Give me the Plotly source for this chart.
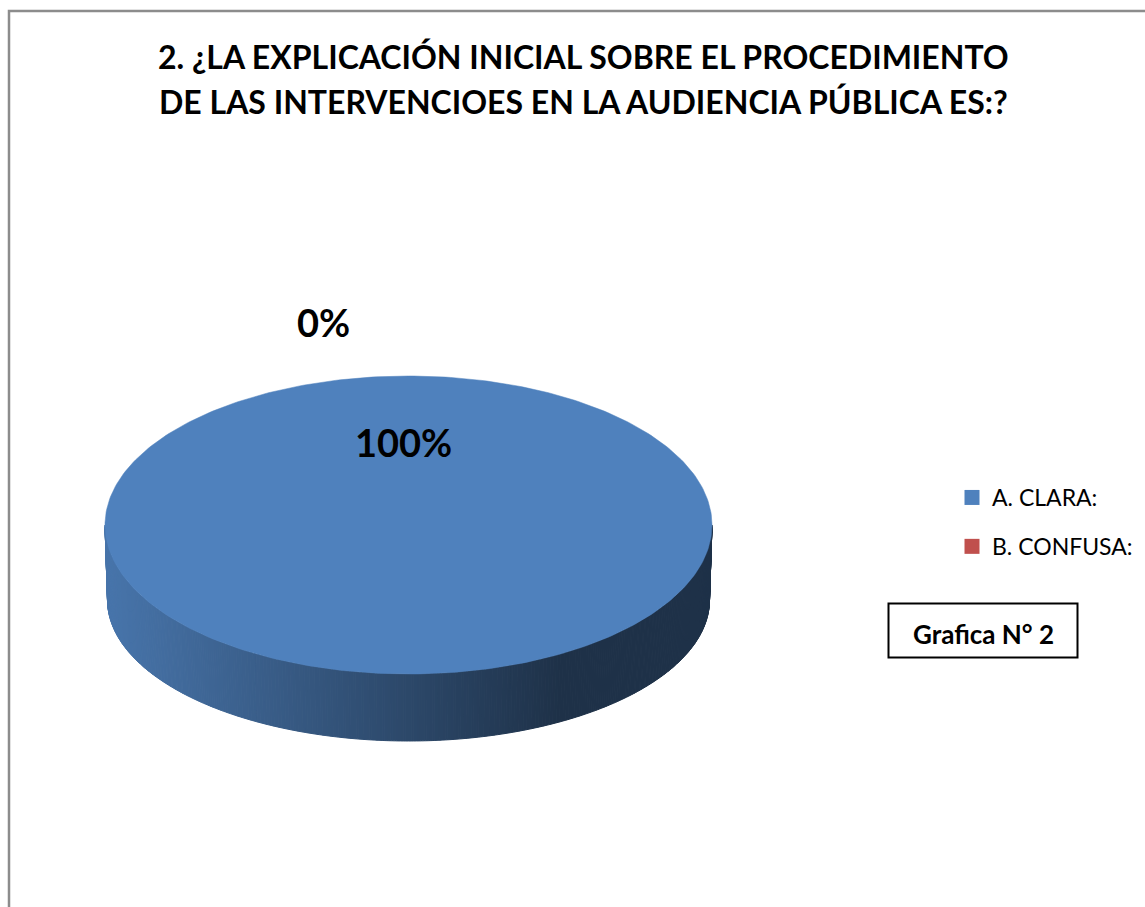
"""
Pie 3D de la pregunta 2 (Plotly no trae pie 3D, se arma con Scatter rellenos)
"""

import numpy as np
import plotly.graph_objects as go

TITLE_LINES = [
    "2. ¿LA EXPLICACIÓN INICIAL SOBRE EL PROCEDIMIENTO",
    "DE LAS INTERVENCIOES EN LA AUDIENCIA PÚBLICA ES:?",
]
CATEGORIES = ["A. CLARA:", "B. CONFUSA:"]
SHARES = [100, 0]
COLORS = ["#4f81bd", "#c0504d"]
FONT = "Lato"

# geometria del disco, en pixeles de la pagina
CX, CY, RX, RY = 408.5, 525, 303.5, 149
BOTTOM_CX, BOTTOM_CY, BOTTOM_RX, BOTTOM_RY = 408.5, 600, 301, 141


def shade(color, x):
    """Oscurece el color base segun x, como el degradado lateral de Excel"""
    f = np.interp(x, [110, 561], [0.9, 0.38])
    rgb = [int(color[i:i + 2], 16) for i in (1, 3, 5)]
    return "rgb({},{},{})".format(*[round(c * f) for c in rgb])


fig = go.Figure()

# lado del cilindro: tiras verticales en la mitad frontal (0-180 grados, y hacia abajo)
start = 0.0
slices = []
for share, color in zip(SHARES, COLORS):
    end = start + share / sum(SHARES) * 360
    slices.append((start, end, color))
    start = end

for a0, a1, color in slices:
    lo, hi = max(a0, 0), min(a1, 180)
    if hi <= lo:
        continue
    edges = np.radians(np.linspace(lo, hi, int((hi - lo) / 0.5) + 1))
    for t0, t1 in zip(edges[:-1], edges[1:]):
        xs = [CX + RX * np.cos(t0), CX + RX * np.cos(t1),
              BOTTOM_CX + BOTTOM_RX * np.cos(t1), BOTTOM_CX + BOTTOM_RX * np.cos(t0)]
        ys = [CY + RY * np.sin(t0), CY + RY * np.sin(t1),
              BOTTOM_CY + BOTTOM_RY * np.sin(t1), BOTTOM_CY + BOTTOM_RY * np.sin(t0)]
        c = shade(color, np.mean(xs))
        fig.add_trace(go.Scatter(
            x=xs + xs[:1], y=ys + ys[:1], mode="lines", fill="toself",
            fillcolor=c, line=dict(color=c, width=1),
            showlegend=False, hoverinfo="skip",
        ))

# tapa superior
for (a0, a1, color), name in zip(slices, CATEGORIES):
    if a1 <= a0:
        continue
    t = np.radians(np.linspace(a0, a1, 361))
    xs = CX + RX * np.cos(t)
    ys = CY + RY * np.sin(t)
    if a1 - a0 < 360:
        xs = np.r_[CX, xs, CX]
        ys = np.r_[CY, ys, CY]
    fig.add_trace(go.Scatter(
        x=xs, y=ys, mode="lines", fill="toself", fillcolor=color,
        line=dict(color=color, width=0.5), showlegend=False, name=name,
    ))

# entradas de leyenda
for name, color in zip(CATEGORIES, COLORS):
    fig.add_trace(go.Scatter(
        x=[None], y=[None], mode="markers", name=name, legendgroup=name,
        marker=dict(symbol="square", size=15, color=color),
    ))

annotations = []
for text, y in zip(TITLE_LINES, [56, 101]):
    annotations.append(dict(
        x=583, y=y, text=f"<b>{text}</b>", showarrow=False, xanchor="center", yanchor="middle",
        font=dict(size=32, color="black", family=FONT),
    ))
# etiquetas de porcentaje (fuera la de 0%, dentro la de 100%)
for share, (x, y) in zip(SHARES[::-1], [(323, 322), (403, 442)]):
    annotations.append(dict(
        x=x, y=y, text=f"<b>{share}%</b>", showarrow=False, xanchor="center", yanchor="middle",
        font=dict(size=38, color="black", family=FONT),
    ))
annotations.append(dict(
    x=983, y=634, text="<b>Grafica N° 2</b>", showarrow=False, xanchor="center", yanchor="middle",
    font=dict(size=26, color="black", family=FONT),
))

shapes = [
    # marco gris cortado por la derecha y abajo
    dict(type="path", path="M 9 907 L 9 11 L 1145 11", line=dict(color="#8c8c8c", width=2.5)),
    dict(type="rect", x0=888.5, x1=1077.5, y0=603.5, y1=657.5, line=dict(color="black", width=2)),
]

fig.update_layout(
    width=1145,
    height=907,
    margin=dict(l=0, r=0, t=0, b=0),
    paper_bgcolor="white",
    plot_bgcolor="white",
    xaxis=dict(range=[0, 1145], visible=False, fixedrange=True),
    yaxis=dict(range=[907, 0], visible=False, fixedrange=True),
    annotations=annotations,
    shapes=shapes,
    showlegend=True,
    legend=dict(
        x=952 / 1145, y=1 - 476 / 907, xanchor="left", yanchor="top",
        traceorder="grouped", tracegroupgap=16,
        font=dict(size=23, color="black", family=FONT),
        bgcolor="rgba(0,0,0,0)", itemclick=False, itemdoubleclick=False,
    ),
)

fig.write_html("out.html", config=dict(displayModeBar=False),
               post_script="document.body.style.margin='0';")
